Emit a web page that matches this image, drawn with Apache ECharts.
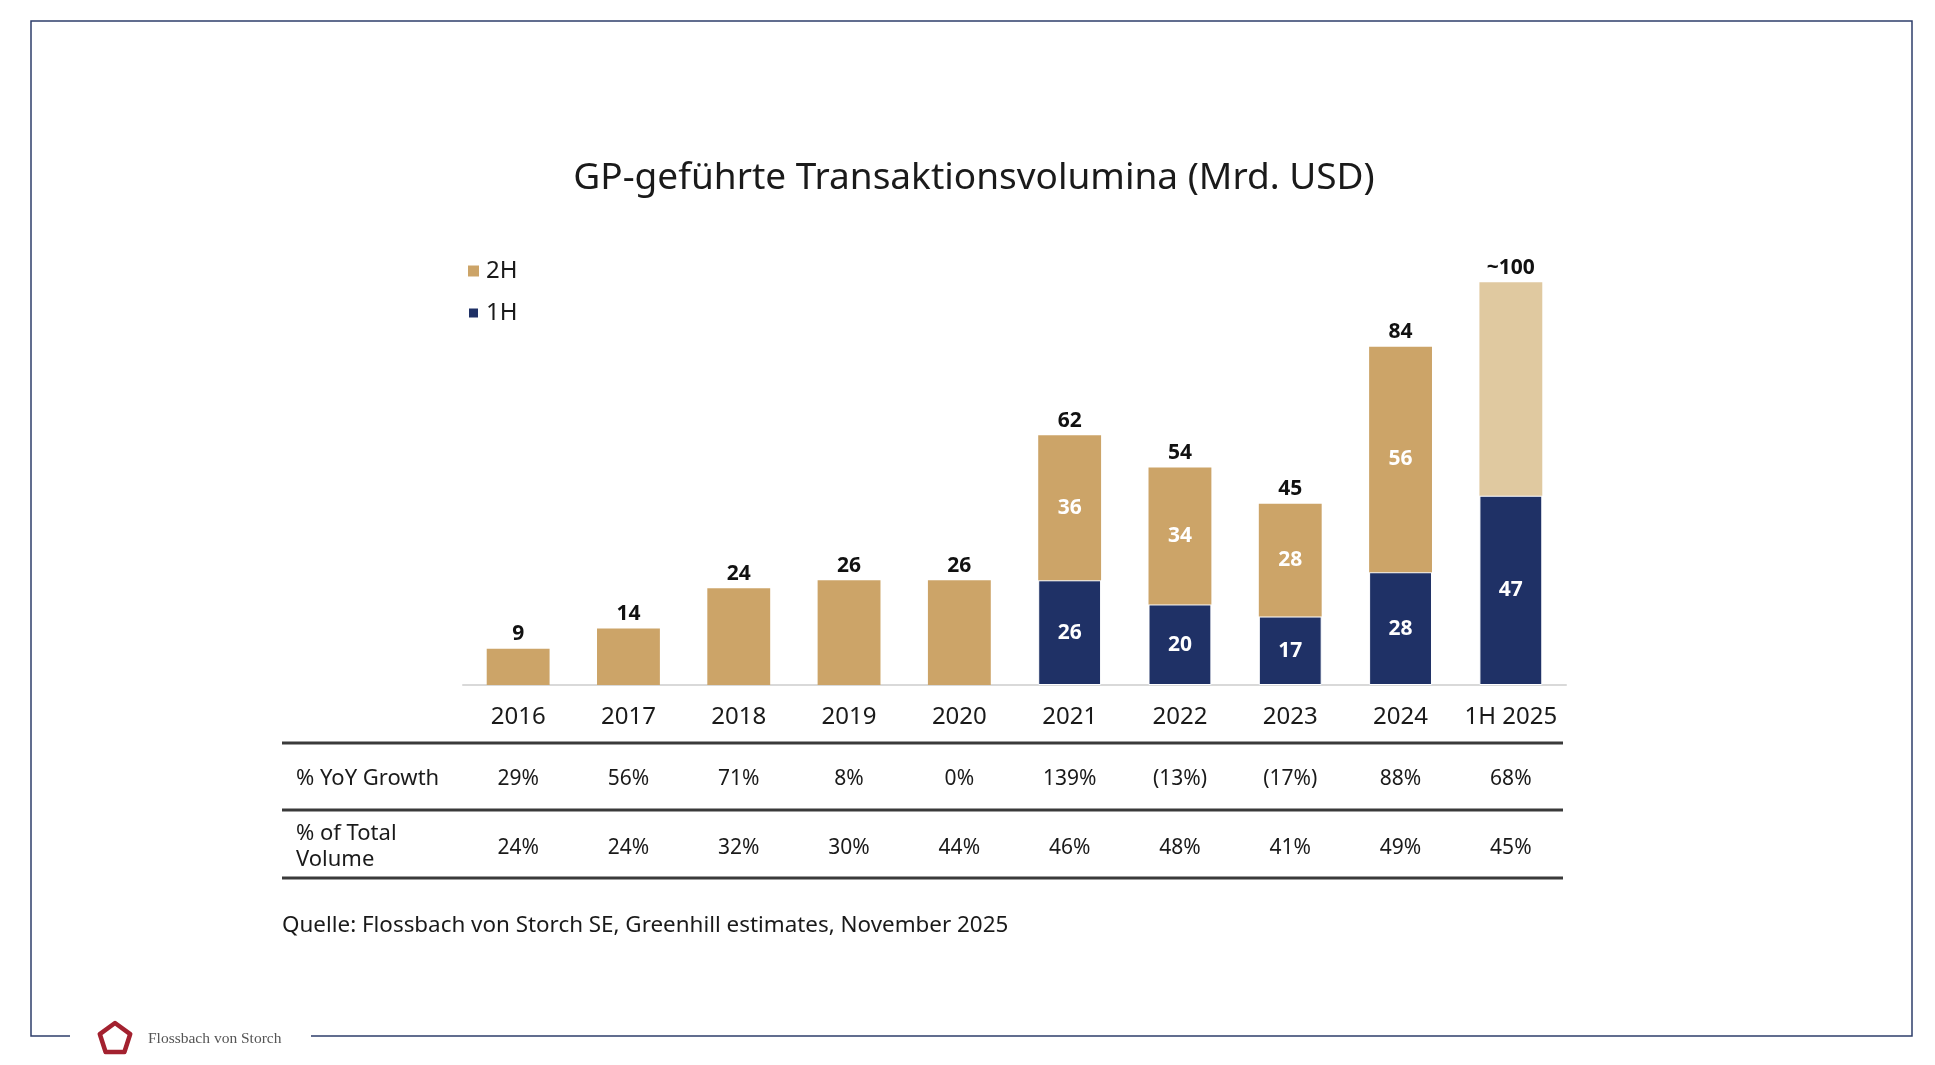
<!DOCTYPE html>
<html>
<head>
<meta charset="utf-8">
<script src="https://cdn.jsdelivr.net/npm/echarts@6/dist/echarts.min.js"></script>
<style>
html,body{margin:0;padding:0;background:#fff;}
#chart{width:1935px;height:1065px;}
</style>
</head>
<body>
<div id="chart"></div>
<script>
const categories = ['2016','2017','2018','2019','2020','2021','2022','2023','2024','1H 2025'];
const firstHalf = ['-','-','-','-','-',26,20,17,28,47];
const secondHalf = [9,14,24,26,26,36,34,28,56,53];
const totalLabels = ['9','14','24','26','26','62','54','45','84','~100'];
const yoyGrowth = ['29%','56%','71%','8%','0%','139%','(13%)','(17%)','88%','68%'];
const shareOfTotal = ['24%','24%','32%','30%','44%','46%','48%','41%','49%','45%'];
const splitShown = [false,false,false,false,false,true,true,true,true,false];
const estimated = [false,false,false,false,false,false,false,false,false,true];

const TAN = '#CCA468', NAVY = '#1F3166', LIGHT = '#E0C9A0';
const FONT = '"Noto Sans", "Open Sans", sans-serif';

const chart = echarts.init(document.getElementById('chart'));

const secondData = secondHalf.map((v, i) => ({
  value: v,
  label: {show: splitShown[i]},
  itemStyle: estimated[i] ? {color: LIGHT} : undefined
}));
const firstData = firstHalf.map(v => ({value: v, label: {show: v !== '-'}}));
const topData = categories.map(() => 0);

function pentagon(cx, cy, r) {
  const pts = [];
  for (let k = 0; k < 5; k++) {
    const a = -Math.PI / 2 + k * 2 * Math.PI / 5;
    pts.push([cx + r * Math.cos(a), cy + r * Math.sin(a)]);
  }
  return pts;
}

const option = {
  animation: false,
  backgroundColor: '#fff',
  textStyle: {fontFamily: FONT},
  title: {
    text: 'GP-geführte Transaktionsvolumina (Mrd. USD)',
    left: 969, top: 155, textAlign: 'center',
    textStyle: {fontFamily: FONT, fontSize: 37, fontWeight: 'normal', color: '#1a1a1a'}
  },
  legend: {
    data: ['2H', '1H'],
    orient: 'vertical', left: 462, top: 254,
    itemWidth: 11, itemHeight: 11, itemGap: 18, icon: 'rect',
    textStyle: {fontSize: 24, color: '#1a1a1a', fontFamily: FONT, padding: [0,0,0,2]}
  },
  grid: {left: 463, width: 1103, top: 242, bottom: 1065 - 685, containLabel: false},
  xAxis: [
    {
      type: 'category', data: categories,
      axisLine: {show: true, lineStyle: {color: '#D9D9D9', width: 2}},
      axisTick: {show: false},
      axisLabel: {interval: 0, fontSize: 24, color: '#1a1a1a', margin: 20, fontFamily: FONT}
    },
    {
      type: 'category', data: yoyGrowth, position: 'bottom', offset: 84,
      axisLine: {show: false}, axisTick: {show: false},
      axisLabel: {interval: 0, fontSize: 21, color: '#1a1a1a', margin: 0, fontFamily: FONT}
    },
    {
      type: 'category', data: shareOfTotal, position: 'bottom', offset: 153,
      axisLine: {show: false}, axisTick: {show: false},
      axisLabel: {interval: 0, fontSize: 21, color: '#1a1a1a', margin: 0, fontFamily: FONT}
    }
  ],
  yAxis: {type: 'value', min: 0, max: 110, show: false, splitLine: {show: false}},
  series: [
    {
      name: '1H', type: 'bar', stack: 'v', barWidth: '57%',
      data: firstData,
      itemStyle: {color: NAVY, borderColor: '#fff', borderWidth: 1},
      label: {position: 'inside', color: '#fff', fontWeight: 'bold', fontSize: 21, fontFamily: FONT}
    },
    {
      name: '2H', type: 'bar', stack: 'v', barWidth: '57%',
      data: secondData,
      itemStyle: {color: TAN},
      label: {position: 'inside', color: '#fff', fontWeight: 'bold', fontSize: 21, fontFamily: FONT}
    },
    {
      name: 'Total', type: 'bar', stack: 'v', barWidth: '57%',
      data: topData,
      itemStyle: {color: 'transparent'},
      label: {show: true, position: 'top', distance: 4, color: '#111', fontWeight: 'bold', fontSize: 21, fontFamily: FONT,
        formatter: p => totalLabels[p.dataIndex]}
    }
  ],
  graphic: [
    {type: 'polyline', shape: {points: [[70,1036],[31,1036],[31,21],[1912,21],[1912,1036],[311,1036]]},
     style: {stroke: '#2E3E6B', lineWidth: 1.5, fill: null}, silent: true},
    {type: 'line', shape: {x1: 282, y1: 743, x2: 1563, y2: 743}, style: {stroke: '#3a3a3a', lineWidth: 3}},
    {type: 'line', shape: {x1: 282, y1: 810, x2: 1563, y2: 810}, style: {stroke: '#3a3a3a', lineWidth: 3}},
    {type: 'line', shape: {x1: 282, y1: 878, x2: 1563, y2: 878}, style: {stroke: '#3a3a3a', lineWidth: 3}},
    {type: 'text', left: 296, top: 768, style: {text: '% YoY Growth', fontSize: 22, fill: '#1a1a1a', fontFamily: FONT}},
    {type: 'text', left: 296, top: 821, style: {text: '% of Total\nVolume', fontSize: 22, lineHeight: 26, fill: '#1a1a1a', fontFamily: FONT}},
    {type: 'text', left: 282, top: 915, style: {text: 'Quelle: Flossbach von Storch SE, Greenhill estimates, November 2025', fontSize: 22.4, fill: '#1a1a1a', fontFamily: FONT}},
    {type: 'polygon', shape: {points: pentagon(115, 1039, 16)},
     style: {stroke: '#A3212F', lineWidth: 4.5, fill: null, lineJoin: 'round'}},
    {type: 'text', left: 148, top: 1031, style: {text: 'Flossbach von Storch', fontSize: 15.5, fill: '#555', fontFamily: '"Liberation Serif", serif'}}
  ]
};
chart.setOption(option);
</script>
</body>
</html>
